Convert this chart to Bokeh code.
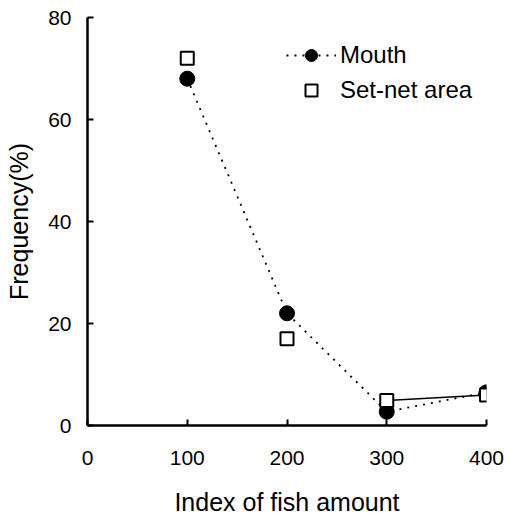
from bokeh.plotting import figure
from bokeh.models import FixedTicker, Legend, LegendItem, ColumnDataSource
from bokeh.embed import file_html
from bokeh.resources import INLINE

# data
index_values = [100, 200, 300, 400]
mouth_freq = [68, 22, 2.7, 6.5]
setnet_freq = [72, 17, 4.9, 6.0]
x_ticks = [0, 100, 200, 300, 400]
y_ticks = [0, 20, 40, 60, 80]

FONT = "Liberation Sans"

p = figure(width=506, height=518, x_range=(0, 400), y_range=(0, 80),
           output_backend="svg", toolbar_location=None,
           min_border_left=87, min_border_right=20, min_border_top=17, min_border_bottom=93)
p.grid.visible = False
p.outline_line_color = None
p.background_fill_color = "white"
p.border_fill_color = "white"

for ax, ticks in ((p.xaxis[0], x_ticks), (p.yaxis[0], y_ticks)):
    ax.ticker = FixedTicker(ticks=ticks)
    ax.minor_tick_line_color = None
    ax.major_tick_in = 6
    ax.major_tick_out = 0
    ax.major_tick_line_width = 2
    ax.axis_line_width = 2.5
    ax.axis_line_color = "black"
    ax.major_tick_line_color = "black"
    ax.major_label_text_font = FONT
    ax.major_label_text_font_size = "21px"
    ax.major_label_text_color = "black"
    ax.axis_label_text_font = FONT
    ax.axis_label_text_font_size = "25px"
    ax.axis_label_text_font_style = "normal"
    ax.axis_label_text_color = "black"

p.xaxis.axis_label = "Index of fish amount"
p.yaxis.axis_label = "Frequency(%)"
p.xaxis.major_label_standoff = 25
p.xaxis.axis_label_standoff = 20
p.yaxis.major_label_standoff = 16
p.yaxis.axis_label_standoff = 12

src_m = ColumnDataSource(dict(x=index_values, y=mouth_freq))
src_s = ColumnDataSource(dict(x=index_values, y=setnet_freq))
src_s_tail = ColumnDataSource(dict(x=index_values[2:], y=setnet_freq[2:]))

m_line = p.line("x", "y", source=src_m, line_color="black", line_width=1.8, line_dash="2 6")
s_line = p.line("x", "y", source=src_s_tail, line_color="black", line_width=1.5)
m_pts = p.scatter("x", "y", source=src_m, marker="circle", size=15,
                  fill_color="black", line_color="black")
s_pts = p.scatter("x", "y", source=src_s, marker="square", size=13,
                  fill_color="white", line_color="black", line_width=2)
dummy = p.line(x=[], y=[], line_color="black", line_width=1.8, line_dash="2 6")

legend = Legend(items=[
    LegendItem(label="Mouth", renderers=[m_line, m_pts]),
    LegendItem(label="Set-net area", renderers=[dummy, s_pts]),
], location=(199, 320))
legend.border_line_alpha = 0
legend.background_fill_alpha = 0
legend.glyph_width = 50
legend.glyph_height = 30
legend.label_height = 30
legend.spacing = 5
legend.padding = 0
legend.margin = 0
legend.label_standoff = 4
legend.label_text_font = FONT
legend.label_text_font_size = "24px"
legend.label_text_color = "black"
p.add_layout(legend)

open("out.html", "w").write(file_html(p, INLINE))
